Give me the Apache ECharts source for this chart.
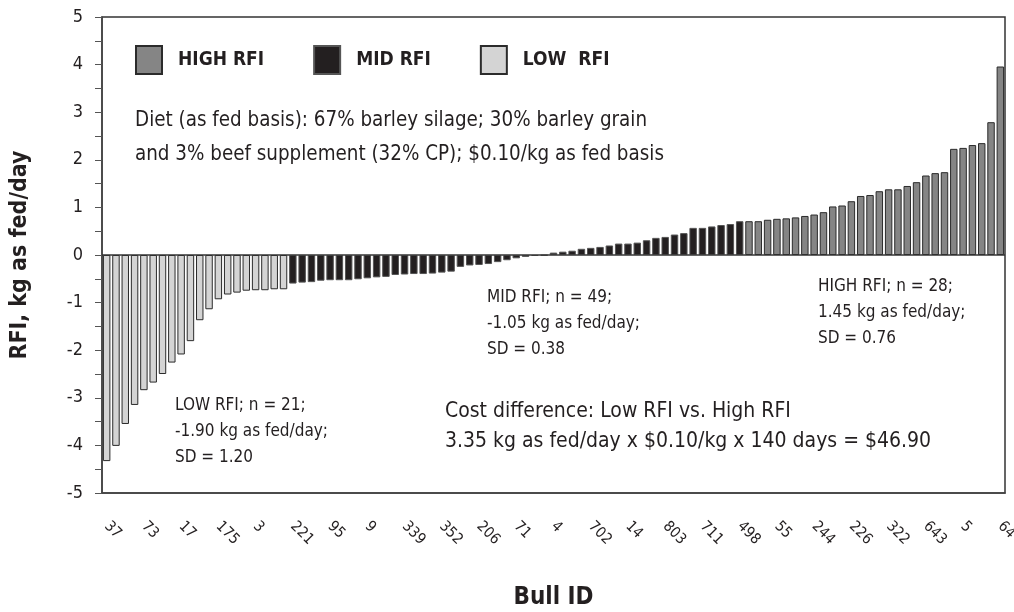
<!DOCTYPE html>
<html>
<head>
<meta charset="utf-8">
<script src="https://cdn.jsdelivr.net/npm/echarts@6/dist/echarts.min.js"></script>
<style>
  html, body { margin: 0; padding: 0; background: #fff; }
  #rfiChart { width: 1014px; height: 612px; }
</style>
</head>
<body>
<div id="rfiChart"></div>
<script>
// RFI per bull, sorted low -> high (kg as fed/day)
var lowRfi = [-4.33, -4.01, -3.55, -3.15, -2.84, -2.68, -2.50, -2.26, -2.09, -1.81,
  -1.37, -1.14, -0.93, -0.83, -0.79, -0.75, -0.74, -0.74, -0.72, -0.72]
var midRfi = [-0.60, -0.58, -0.57, -0.54, -0.53, -0.53, -0.53, -0.51, -0.49, -0.47,
  -0.46, -0.42, -0.41, -0.40, -0.40, -0.39, -0.37, -0.35, -0.25, -0.22,
  -0.21, -0.19, -0.15, -0.11, -0.07, -0.04, -0.02, -0.01, 0.05, 0.07,
  0.09, 0.13, 0.15, 0.17, 0.20, 0.24, 0.24, 0.26, 0.31, 0.36,
  0.38, 0.43, 0.46, 0.57, 0.57, 0.60, 0.63, 0.65, 0.71]
var highRfi = [0.71, 0.71, 0.74, 0.76, 0.77, 0.79, 0.82, 0.85, 0.90, 1.02,
  1.04, 1.13, 1.24, 1.26, 1.34, 1.38, 1.38, 1.45, 1.53, 1.67,
  1.72, 1.74, 2.23, 2.25, 2.31, 2.35, 2.79, 3.96]

// only every 4th bull ID is printed on the axis
var bullIdLabels = ['37', '73', '17', '175', '3', '221', '95', '9', '339', '352', '206', '71', '4',
  '702', '14', '803', '711', '498', '55', '244', '226', '322', '643', '5', '64']
var labelStep = 4

var seriesNames = ['HIGH RFI', 'MID RFI', 'LOW  RFI']
var yTicks = [-5, -4, -3, -2, -1, 0, 1, 2, 3, 4, 5]

var total = lowRfi.length + midRfi.length + highRfi.length
var categories = []
for (var i = 0; i < total; i++) {
  categories.push(i % labelStep === 0 ? bullIdLabels[i / labelStep] : '')
}

// each group only fills its own slots, the rest stays empty
function padGroup (values, start) {
  var out = []
  for (var i = 0; i < total; i++) {
    out.push(i >= start && i < start + values.length ? values[i - start] : '-')
  }
  return out
}
var lowData = padGroup(lowRfi, 0)
var midData = padGroup(midRfi, lowRfi.length)
var highData = padGroup(highRfi, lowRfi.length + midRfi.length)

var font = "'Liberation Sans Narrow', 'DejaVu Sans Condensed', 'Roboto', sans-serif"

var barBase = {
  type: 'bar',
  barGap: '-100%',
  barCategoryGap: '20%',
  silent: true
}

var option = {
  animation: false,
  textStyle: { fontFamily: font },
  grid: {
    left: 102,
    right: 9,
    top: 17,
    bottom: 119,
    outerBoundsMode: 'none',
    show: true,
    borderColor: '#333',
    borderWidth: 1.5
  },
  legend: {
    data: seriesNames,
    left: 130,
    top: 40,
    icon: 'rect',
    itemWidth: 26,
    itemHeight: 28,
    itemGap: 49,
    selectedMode: false,
    textStyle: {
      fontFamily: font,
      fontSize: 19,
      fontWeight: 'bold',
      color: '#231f20',
      padding: [0, 0, 0, 11]
    }
  },
  xAxis: {
    type: 'category',
    data: categories,
    name: 'Bull ID',
    nameLocation: 'middle',
    nameGap: 93,
    nameTextStyle: { fontFamily: font, fontSize: 24, fontWeight: 'bold', color: '#231f20' },
    axisLine: { onZero: false, lineStyle: { color: '#444', width: 1.5 } },
    axisTick: { interval: 0, alignWithLabel: true, length: 11, lineStyle: { color: '#555' } },
    axisLabel: {
      interval: 0,
      rotate: -45,
      margin: 31,
      fontFamily: font,
      fontSize: 15,
      color: '#231f20'
    },
    splitLine: { show: false }
  },
  yAxis: {
    type: 'value',
    min: yTicks[0],
    max: yTicks[yTicks.length - 1],
    interval: 1,
    name: 'RFI, kg as fed/day',
    nameLocation: 'middle',
    nameGap: 70,
    nameTextStyle: { fontFamily: font, fontSize: 23, fontWeight: 'bold', color: '#231f20' },
    axisLine: { show: true, lineStyle: { color: '#444', width: 1.5 } },
    axisTick: { show: true, length: 7, lineStyle: { color: '#555' } },
    minorTick: { show: true, splitNumber: 2, length: 7, lineStyle: { color: '#555' } },
    axisLabel: { fontFamily: font, fontSize: 18, color: '#231f20', margin: 19 },
    splitLine: { show: false }
  },
  series: [
    Object.assign({}, barBase, {
      name: seriesNames[0],
      data: highData,
      itemStyle: { color: '#858585', borderColor: '#2b2b2b', borderWidth: 1 }
    }),
    Object.assign({}, barBase, {
      name: seriesNames[1],
      data: midData,
      itemStyle: { color: '#231f20', borderColor: '#555', borderWidth: 1 }
    }),
    Object.assign({}, barBase, {
      name: seriesNames[2],
      data: lowData,
      itemStyle: { color: '#d4d4d4', borderColor: '#2b2b2b', borderWidth: 1 },
      markLine: {
        silent: true,
        symbol: 'none',
        label: { show: false },
        lineStyle: { color: '#333', width: 1.5, type: 'solid' },
        data: [{ yAxis: 0 }]
      }
    })
  ],
  graphic: [
    {
      type: 'text',
      left: 135,
      top: 104,
      style: {
        text: 'Diet (as fed basis): 67% barley silage; 30% barley grain\nand 3% beef supplement (32% CP); $0.10/kg as fed basis',
        font: '20.4px ' + font,
        lineHeight: 34,
        fill: '#231f20'
      }
    },
    {
      type: 'text',
      left: 487,
      top: 285,
      style: {
        text: 'MID RFI; n = 49;\n-1.05 kg as fed/day;\nSD = 0.38',
        font: '17px ' + font,
        lineHeight: 26,
        fill: '#231f20'
      }
    },
    {
      type: 'text',
      left: 818,
      top: 274,
      style: {
        text: 'HIGH RFI; n = 28;\n1.45 kg as fed/day;\nSD = 0.76',
        font: '17px ' + font,
        lineHeight: 26,
        fill: '#231f20'
      }
    },
    {
      type: 'text',
      left: 175,
      top: 393,
      style: {
        text: 'LOW RFI; n = 21;\n-1.90 kg as fed/day;\nSD = 1.20',
        font: '17px ' + font,
        lineHeight: 26,
        fill: '#231f20'
      }
    },
    {
      type: 'text',
      left: 445,
      top: 397,
      style: {
        text: 'Cost difference: Low RFI vs. High RFI\n3.35 kg as fed/day x $0.10/kg x 140 days = $46.90',
        font: '21px ' + font,
        lineHeight: 30,
        fill: '#231f20'
      }
    }
  ]
}

var rfiChart = echarts.init(document.getElementById('rfiChart'))
rfiChart.setOption(option)
</script>
</body>
</html>
